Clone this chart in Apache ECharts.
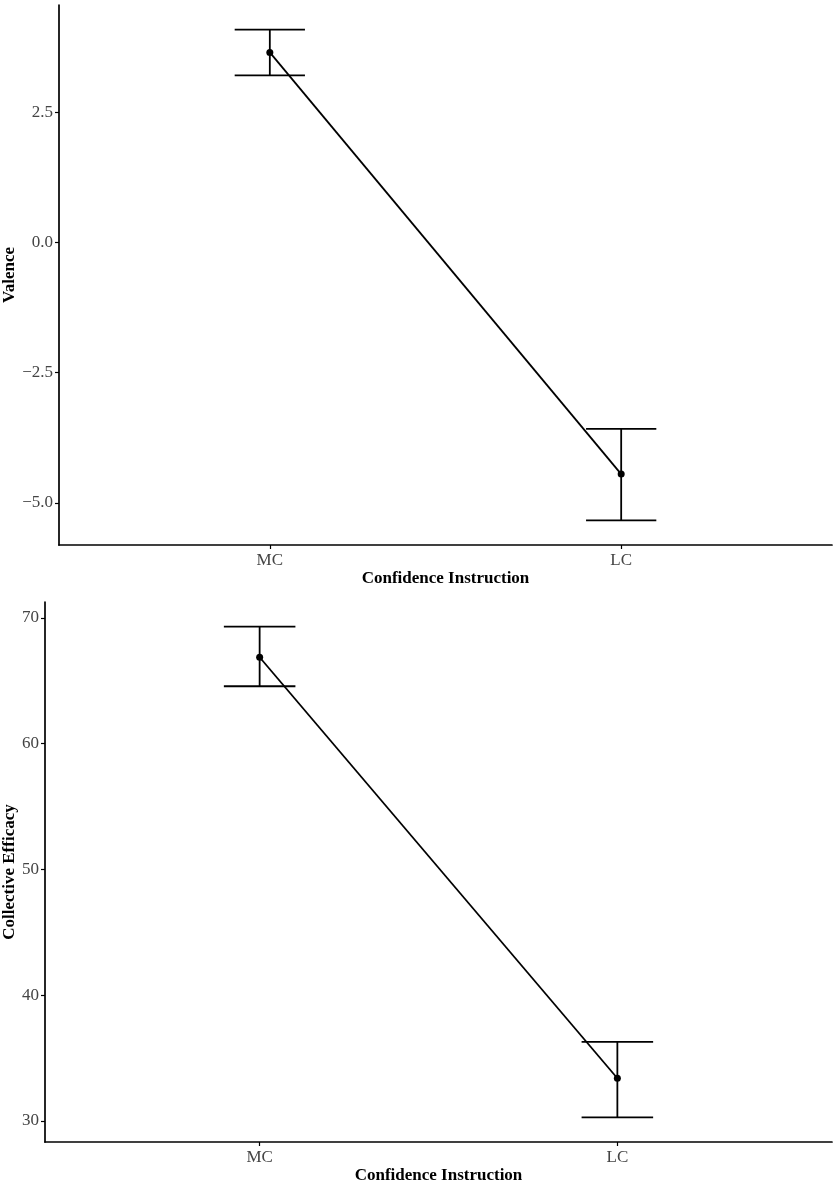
<!DOCTYPE html>
<html>
<head>
<meta charset="utf-8">
<script src="https://cdn.jsdelivr.net/npm/echarts@6/dist/echarts.min.js"></script>
<style>
html,body{margin:0;padding:0;background:#fff;}
#chart{width:834px;height:1185px;}
</style>
</head>
<body>
<div id="chart"></div>
<script>
const categories = ['MC', 'LC'];
const valenceMean = [3.65, -4.45];
const valenceLow = [3.21, -5.34];
const valenceHigh = [4.09, -3.58];
const efficacyMean = [66.87, 33.39];
const efficacyLow = [64.56, 30.27];
const efficacyHigh = [69.31, 36.28];
const valenceTicks = [-5, -2.5, 0, 2.5];
const efficacyTicks = [30, 40, 50, 60, 70];

const FONT = '"Liberation Serif", "DejaVu Serif", serif';
const chart = echarts.init(document.getElementById('chart'));

function expand(lo, hi) {
  const mn = Math.min(...lo), mx = Math.max(...hi);
  const d = (mx - mn) * 0.05;
  return [mn - d, mx + d];
}
const vr = expand(valenceLow, valenceHigh);
const er = expand(efficacyLow, efficacyHigh);

function pts(arr) { return arr.map((v, i) => [i + 1, v]); }
function errData(lo, hi) { return lo.map((v, i) => [i + 1, v, hi[i]]); }

function xAxis(gi) {
  return {
    type: 'value', gridIndex: gi, min: 0.4, max: 2.6,
    name: 'Confidence Instruction', nameLocation: 'middle', nameGap: 25, nameMoveOverlap: false,
    nameTextStyle: { fontFamily: FONT, fontWeight: 'bold', fontSize: 17, color: '#000' },
    splitLine: { show: false },
    axisLine: { show: true, onZero: false, lineStyle: { color: '#000', width: 1.7 } },
    axisTick: { show: true, length: 4, lineStyle: { color: '#000', width: 1.2 }, customValues: [1, 2] },
    axisLabel: { fontFamily: FONT, fontSize: 17, color: '#444', margin: 7,
      customValues: [1, 2], formatter: v => categories[Math.round(v) - 1] }
  };
}
function yAxis(gi, name, r, ticks, dec, gap) {
  return {
    type: 'value', gridIndex: gi, min: r[0], max: r[1],
    name: name, nameLocation: 'middle', nameGap: gap, nameRotate: 90, nameMoveOverlap: false,
    nameTextStyle: { fontFamily: FONT, fontWeight: 'bold', fontSize: 17, color: '#000' },
    splitLine: { show: false },
    axisLine: { show: true, onZero: false, lineStyle: { color: '#000', width: 1.7 } },
    axisTick: { show: true, length: 4, lineStyle: { color: '#000', width: 1.2 }, customValues: ticks },
    axisLabel: { fontFamily: FONT, fontSize: 17, color: '#444', margin: 6,
      customValues: ticks, formatter: v => (v < 0 ? '\u2212' : '') + Math.abs(v).toFixed(dec) }
  };
}
function errSeries(idx, data) {
  return {
    type: 'custom', xAxisIndex: idx, yAxisIndex: idx, data: data,
    encode: { x: 0, y: [1, 2] },
    renderItem: function (params, api) {
      const x = api.value(0), lo = api.value(1), hi = api.value(2);
      const pLo = api.coord([x, lo]), pHi = api.coord([x, hi]);
      const cL = api.coord([x - 0.1, lo])[0], cR = api.coord([x + 0.1, lo])[0];
      const st = { stroke: '#000', lineWidth: 1.8 };
      return { type: 'group', children: [
        { type: 'line', shape: { x1: pLo[0], y1: pLo[1], x2: pHi[0], y2: pHi[1] }, style: st },
        { type: 'line', shape: { x1: cL, y1: pLo[1], x2: cR, y2: pLo[1] }, style: st },
        { type: 'line', shape: { x1: cL, y1: pHi[1], x2: cR, y2: pHi[1] }, style: st }
      ]};
    },
    z: 2
  };
}
function lineSeries(idx, data) {
  return {
    type: 'line', xAxisIndex: idx, yAxisIndex: idx, data: data,
    symbol: 'circle', symbolSize: 7, showSymbol: true,
    itemStyle: { color: '#000' }, lineStyle: { color: '#000', width: 1.8 },
    z: 3, animation: false
  };
}

chart.setOption({
  animation: false,
  backgroundColor: '#fff',
  grid: [
    { left: 59, right: 2, top: 5, height: 540, containLabel: false, outerBoundsMode: 'none' },
    { left: 45, right: 2, top: 602, height: 540, containLabel: false, outerBoundsMode: 'none' }
  ],
  xAxis: [xAxis(0), xAxis(1)],
  yAxis: [
    yAxis(0, 'Valence', vr, valenceTicks, 1, 41),
    yAxis(1, 'Collective Efficacy', er, efficacyTicks, 0, 27)
  ],
  series: [
    errSeries(0, errData(valenceLow, valenceHigh)),
    lineSeries(0, pts(valenceMean)),
    errSeries(1, errData(efficacyLow, efficacyHigh)),
    lineSeries(1, pts(efficacyMean))
  ]
});
</script>
</body>
</html>
